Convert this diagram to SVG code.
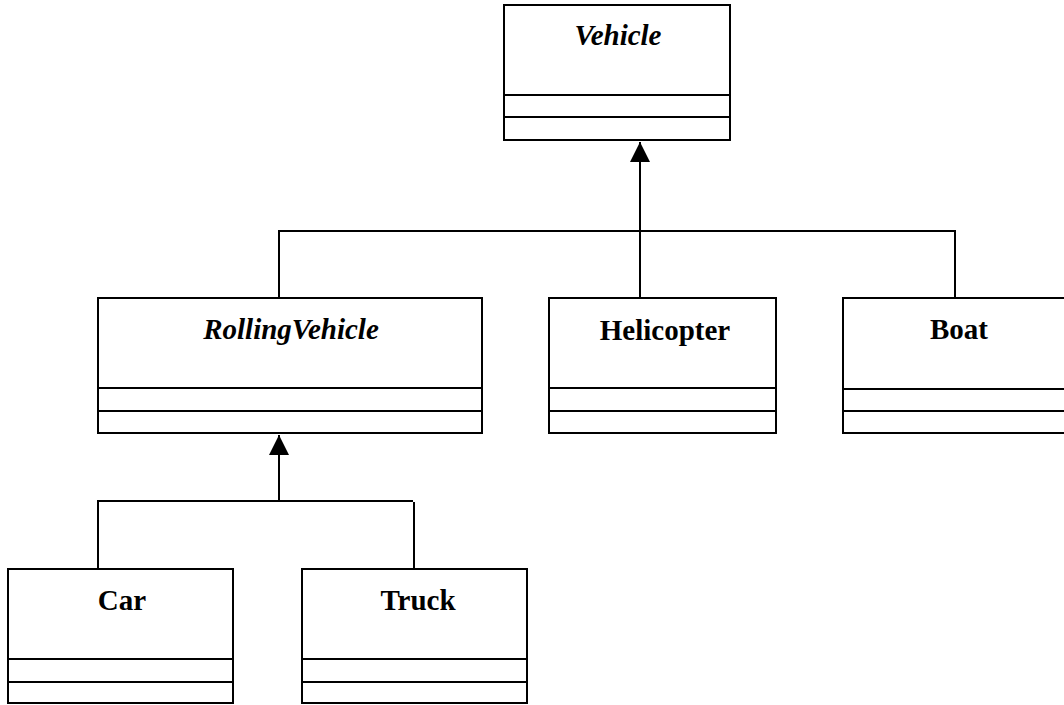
<svg xmlns="http://www.w3.org/2000/svg" width="1064" height="705" viewBox="0 0 1064 705">
<style>
.box{fill:#fff;stroke:#000;stroke-width:2}
.div{stroke:#000;stroke-width:2;fill:none}
.ln{stroke:#000;stroke-width:2;fill:none}
.t{font-family:"Liberation Serif","Times New Roman",serif;font-weight:bold;font-size:29px;fill:#000;text-anchor:middle}
.i{font-style:italic}
</style>
<defs>
<marker id="tri" markerUnits="userSpaceOnUse" markerWidth="20" markerHeight="20" viewBox="0 0 18 18" refX="18" refY="9" orient="auto">
<path d="M0,0 L18,9 L0,18 Z" fill="#000"/>
</marker>
</defs>
<rect width="1064" height="705" fill="#fff"/>
<g id="connectors">
<path class="ln" d="M640,231 V142" marker-end="url(#tri)"/>
<path class="ln" d="M279,298 V231 H955 V298"/>
<path class="ln" d="M640,298 V231"/>
<path class="ln" d="M279,501 V435" marker-end="url(#tri)"/>
<path class="ln" d="M98,569 V501 H413"/>
<path class="ln" d="M414,502 V569"/>
</g>
<g id="Vehicle">
<rect class="box" x="504" y="5" width="226" height="135"/>
<path class="div" d="M504,95 H730 M504,117 H730"/>
<text class="t i" x="618" y="45">Vehicle</text>
</g>
<g id="RollingVehicle">
<rect class="box" x="98" y="298" width="384" height="135"/>
<path class="div" d="M98,388 H482 M98,411 H482"/>
<text class="t i" x="291" y="339">RollingVehicle</text>
</g>
<g id="Helicopter">
<rect class="box" x="549" y="298" width="227" height="135"/>
<path class="div" d="M549,388 H776 M549,411 H776"/>
<text class="t" x="665" y="340">Helicopter</text>
</g>
<g id="Boat">
<rect class="box" x="843" y="298" width="227" height="135"/>
<path class="div" d="M843,389 H1070 M843,411 H1070"/>
<text class="t" x="959" y="339">Boat</text>
</g>
<g id="Car">
<rect class="box" x="8" y="569" width="225" height="134"/>
<path class="div" d="M8,659 H233 M8,682 H233"/>
<text class="t" x="122" y="610">Car</text>
</g>
<g id="Truck">
<rect class="box" x="302" y="569" width="225" height="134"/>
<path class="div" d="M302,659 H527 M302,682 H527"/>
<text class="t" x="418" y="610">Truck</text>
</g>
</svg>
